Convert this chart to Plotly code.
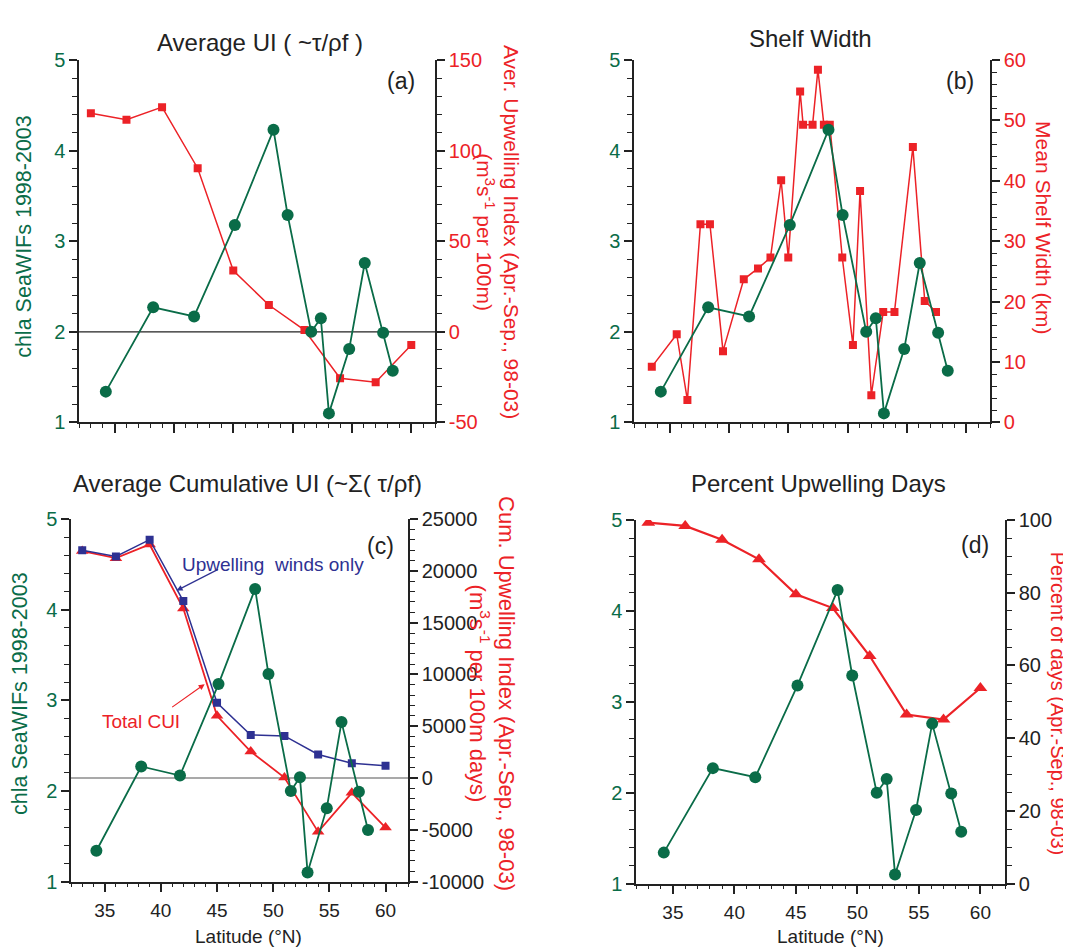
import plotly.graph_objects as go

# ---------------- data ----------------
lat_chl = [34.26, 38.25, 41.70, 45.13, 48.39, 49.58, 51.57, 52.38, 53.06, 54.77, 56.08, 57.63, 58.44]
chl = [1.34, 2.27, 2.17, 3.18, 4.23, 3.29, 2.00, 2.15, 1.10, 1.81, 2.76, 1.99, 1.57]

lat_ui = [33, 36, 39, 42, 45, 48, 51, 54, 57, 60]
ui = [120.6, 117.0, 124.0, 90.3, 33.8, 14.8, 1.0, -25.6, -27.8, -7.3]

lat_shelf = [33.5, 35.6, 36.5, 37.6, 38.4, 39.5, 41.25, 42.45, 43.5, 44.4, 45.0, 46.0, 46.25,
             47.05, 47.5, 48.0, 48.5, 49.55, 50.45, 51.05, 52.0, 53.0, 53.95, 55.5, 56.5, 57.45]
shelf = [9.2, 14.6, 3.7, 32.8, 32.8, 11.8, 23.7, 25.5, 27.3, 40.1, 27.3, 54.8, 49.3,
         49.3, 58.4, 49.3, 49.3, 27.3, 12.8, 38.3, 4.5, 18.3, 18.3, 45.6, 20.1, 18.3]

lat_cui = [33, 36, 39, 42, 45, 48, 51, 54, 57, 60]
cui_upwelling = [21990, 21390, 23020, 17090, 7270, 4160, 4060, 2270, 1430, 1180]
cui_total = [21920, 21230, 22550, 16370, 6010, 2560, 40, -5200, -1430, -4790]

lat_pct = [33, 36, 39, 42, 45, 48, 51, 54, 57, 60]
pct_days = [99.3, 98.4, 94.6, 89.2, 79.6, 75.8, 62.6, 46.5, 45.1, 53.8]

cui_ticks = [-10000, -5000, 0, 5000, 10000, 15000, 20000, 25000]
ui_ticks = [-50, 0, 50, 100, 150]

# ---------------- style ----------------
W, H = 1071, 950
FONT = "Liberation Sans, Arial, Helvetica, sans-serif"
GREEN = "#0a6c48"
RED = "#ec2227"
NAVY = "#2e3192"
INK = "#222222"


def px(x):
    return x / W


def py(y):
    return 1 - y / H


fig = go.Figure()

# panel (a)
fig.add_trace(go.Scatter(x=lat_ui, y=ui, xaxis="x", yaxis="y", mode="lines+markers",
                         line=dict(color=RED, width=1.5),
                         marker=dict(symbol="square", size=8, color=RED), showlegend=False))
fig.add_trace(go.Scatter(x=lat_chl, y=chl, xaxis="x", yaxis="y2", mode="lines+markers",
                         line=dict(color=GREEN, width=1.8),
                         marker=dict(symbol="circle", size=12, color=GREEN), showlegend=False))
# panel (b)
fig.add_trace(go.Scatter(x=lat_shelf, y=shelf, xaxis="x2", yaxis="y3", mode="lines+markers",
                         line=dict(color=RED, width=1.5),
                         marker=dict(symbol="square", size=8, color=RED), showlegend=False))
fig.add_trace(go.Scatter(x=lat_chl, y=chl, xaxis="x2", yaxis="y4", mode="lines+markers",
                         line=dict(color=GREEN, width=1.8),
                         marker=dict(symbol="circle", size=12, color=GREEN), showlegend=False))
# panel (c)
fig.add_trace(go.Scatter(x=lat_cui, y=cui_total, xaxis="x3", yaxis="y5", mode="lines+markers",
                         line=dict(color=RED, width=1.8),
                         marker=dict(symbol="triangle-up", size=11, color=RED), showlegend=False))
fig.add_trace(go.Scatter(x=lat_cui, y=cui_upwelling, xaxis="x3", yaxis="y5", mode="lines+markers",
                         line=dict(color=NAVY, width=1.5),
                         marker=dict(symbol="square", size=8, color=NAVY), showlegend=False))
fig.add_trace(go.Scatter(x=lat_chl, y=chl, xaxis="x3", yaxis="y6", mode="lines+markers",
                         line=dict(color=GREEN, width=1.8),
                         marker=dict(symbol="circle", size=12, color=GREEN), showlegend=False))
# panel (d)
fig.add_trace(go.Scatter(x=lat_pct, y=pct_days, xaxis="x4", yaxis="y7", mode="lines+markers",
                         line=dict(color=RED, width=2.2),
                         marker=dict(symbol="triangle-up", size=12, color=RED), showlegend=False))
fig.add_trace(go.Scatter(x=lat_chl, y=chl, xaxis="x4", yaxis="y8", mode="lines+markers",
                         line=dict(color=GREEN, width=1.8),
                         marker=dict(symbol="circle", size=12, color=GREEN), showlegend=False))


def xax(domain, anchor, labels):
    return dict(domain=domain, anchor=anchor, range=[32, 62], tickmode="linear", tick0=35, dtick=5,
                ticks="outside", ticklen=9, tickwidth=1.5, tickcolor=INK,
                showline=True, linecolor=INK, linewidth=1.5, mirror=False,
                showticklabels=labels, tickfont=dict(family=FONT, size=19, color=INK),
                ticklabelstandoff=2,
                showgrid=False, zeroline=False,
                minor=dict(tickmode="linear", tick0=32, dtick=1, ticks="outside", ticklen=4,
                           tickwidth=1.2, tickcolor=INK))


def yleft(domain, anchor, overlay):
    return dict(domain=domain, anchor=anchor, overlaying=overlay, side="left", range=[1, 5],
                tickmode="linear", tick0=1, dtick=1, ticks="outside", ticklen=8, tickwidth=1.5,
                tickcolor=INK, showline=True, linecolor=INK, linewidth=1.5,
                tickfont=dict(family=FONT, size=20, color=GREEN), showgrid=False, zeroline=False,
                minor=dict(tickmode="linear", tick0=1, dtick=0.2, ticks="outside", ticklen=5,
                           tickwidth=1.2, tickcolor=INK))


def yright(domain, anchor, rng, dtick, mdtick, color, tickvals=None):
    d = dict(domain=domain, anchor=anchor, side="right", range=rng,
             ticks="outside", ticklen=8, tickwidth=1.5, tickcolor=INK,
             showline=True, linecolor=INK, linewidth=1.5,
             tickfont=dict(family=FONT, size=20, color=color), showgrid=False, zeroline=False,
             minor=dict(tickmode="linear", tick0=rng[0], dtick=mdtick, ticks="outside", ticklen=5,
                        tickwidth=1.2, tickcolor=INK))
    if tickvals is None:
        d.update(tickmode="linear", tick0=rng[0], dtick=dtick)
    else:
        d.update(tickmode="array", tickvals=tickvals, ticktext=[str(v) for v in tickvals])
    return d


dom_a = ([px(71), px(427)], [py(413), py(42)])
dom_b = ([px(626), px(982)], [py(413), py(42)])
dom_c = ([px(63), px(400)], [py(883), py(512)])
dom_d = ([px(628), px(997)], [py(885), py(513)])

fig.update_layout(
    width=W, height=H,
    margin=dict(l=0, r=0, t=0, b=0),
    paper_bgcolor="white", plot_bgcolor="rgba(0,0,0,0)",
    font=dict(family=FONT, color=INK),
    showlegend=False,
    xaxis=xax(dom_a[0], "y", False),
    xaxis2=xax(dom_b[0], "y3", False),
    xaxis3=xax(dom_c[0], "y5", True),
    xaxis4=xax(dom_d[0], "y7", True),
    yaxis=yright(dom_a[1], "x", [-50, 150], 50, 10, RED, ui_ticks),
    yaxis2=yleft(dom_a[1], "x", "y"),
    yaxis3=yright(dom_b[1], "x2", [0, 60], 10, 2, RED),
    yaxis4=yleft(dom_b[1], "x2", "y3"),
    yaxis5=yright(dom_c[1], "x3", [-10000, 25000], 5000, 1000, INK, cui_ticks),
    yaxis6=yleft(dom_c[1], "x3", "y5"),
    yaxis7=yright(dom_d[1], "x4", [0, 100], 20, 5, INK),
    yaxis8=yleft(dom_d[1], "x4", "y7"),
)

# zero lines
fig.add_shape(type="line", xref="x domain", yref="y", x0=0, x1=1, y0=0, y1=0,
              line=dict(color=INK, width=1.2), layer="below")
fig.add_shape(type="line", xref="x3 domain", yref="y5", x0=0, x1=1, y0=0, y1=0,
              line=dict(color="#555555", width=1.2), layer="below")


def txt(x, y, text, size, color=INK, angle=0, xanchor="center"):
    fig.add_annotation(xref="paper", yref="paper", x=px(x), y=py(y), text=text, showarrow=False,
                       font=dict(family=FONT, size=size, color=color), textangle=angle,
                       xanchor=xanchor, yanchor="middle")


# titles
txt(252, 24, "Average UI ( ~τ/ρf )", 24)
txt(802, 20, "Shelf Width", 24)
txt(239, 476, "Average Cumulative UI (~Σ( τ/ρf)", 24)
txt(810, 475, "Percent Upwelling Days", 24)

# panel letters
txt(393, 63, "(a)", 23)
txt(952, 63, "(b)", 23)
txt(372, 539, "(c)", 23)
txt(967, 538, "(d)", 23)

# left axis titles
txt(16, 223, "chla SeaWIFs 1998-2003", 21.5, GREEN, -90)
txt(12, 691, "chla SeaWIFs 1998-2003", 21.5, GREEN, -90)

# right axis titles
txt(490, 218, "Aver. Upwelling Index (Apr.-Sep., 98-03)<br>(m<sup>3</sup>s<sup>-1</sup> per 100m)", 21, RED, 90)
txt(1036, 214, "Mean Shelf Width (km)", 21, RED, 90)
txt(484, 690, "Cum. Upwelling Index (Apr.-Sep., 98-03)<br>(m<sup>3</sup>s<sup>-1</sup> per 100m days)", 22, RED, 90)
txt(1050, 701, "Percent of days (Apr.-Sep., 98-03)", 20, RED, 90)

# x axis titles
txt(240, 939, "Latitude (°N)", 19)
txt(822, 939, "Latitude (°N)", 19)

# in-panel labels with arrows (panel c)
txt(265, 558, "Upwelling\u00a0 winds only", 19, NAVY)
txt(133, 719, "Total CUI", 19, RED)
fig.add_annotation(xref="x3", yref="y5", x=41.4, y=18100, ax=43, ay=-22, text="",
                   showarrow=True, arrowhead=2, arrowsize=1, arrowwidth=1.2, arrowcolor=NAVY)
fig.add_annotation(xref="x3", yref="y5", x=43.9, y=9060, ax=-34, ay=24, text="",
                   showarrow=True, arrowhead=2, arrowsize=1, arrowwidth=1.2, arrowcolor=RED)

fig.write_html("out.html")
